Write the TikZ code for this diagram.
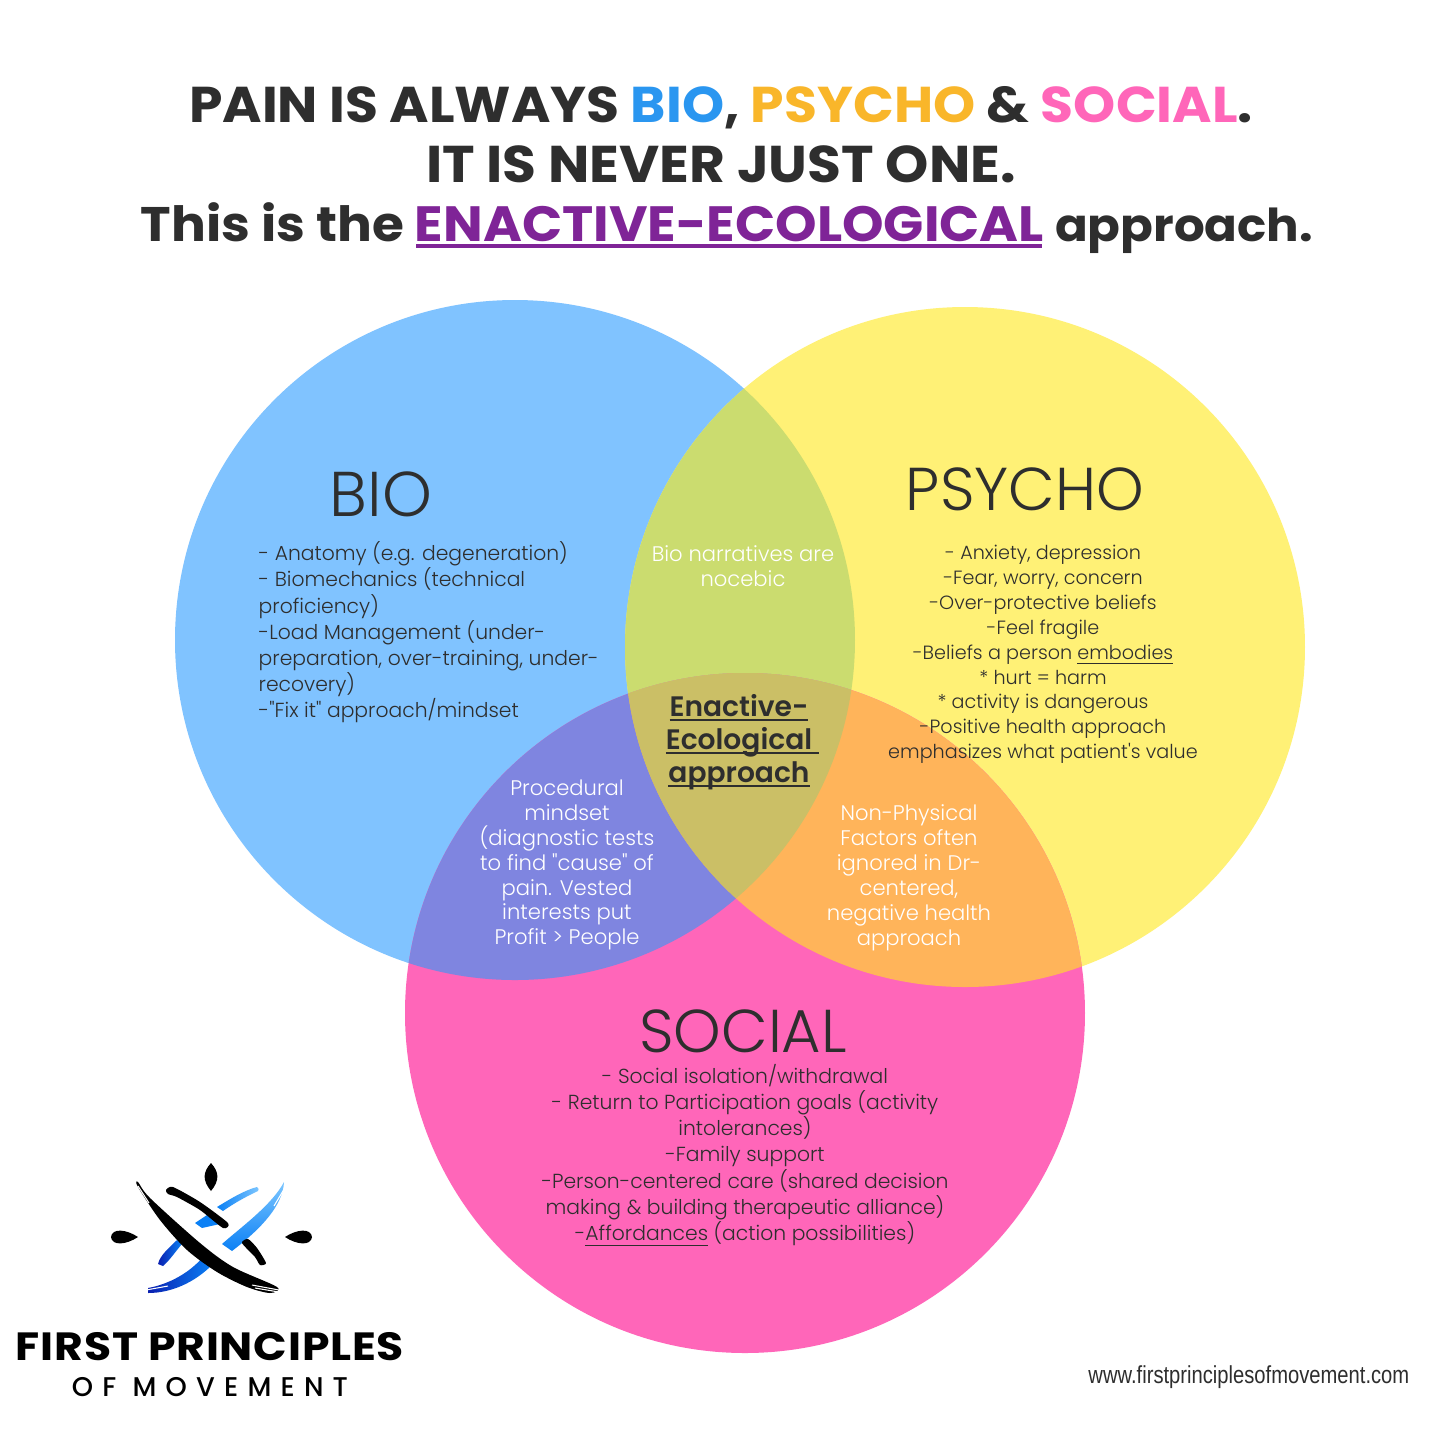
\documentclass[tikz,border=0pt]{standalone}
\usepackage{fontspec}
\setmainfont{Poppins}
\newfontfamily\titlefont[FakeStretch=1.065]{Poppins Bold}
\newfontfamily\semifont{Poppins SemiBold}
\newfontfamily\brandfont[FakeStretch=1.12,LetterSpace=2]{Poppins Bold}
\newfontfamily\brandsubfont[LetterSpace=34]{Poppins Medium}
\newfontfamily\bodyfont{Poppins Light}
\newfontfamily\urlfont[FakeStretch=0.82]{Liberation Sans}
\setlength{\lineskiplimit}{-20pt}
\newlength\ulwidth
\newcommand{\lineunder}[3]{\settowidth{\ulwidth}{#1}\rlap{\rule[-#2]{\ulwidth}{#3}}#1}
\definecolor{inkgray}{HTML}{2E2E2E}
\definecolor{biofill}{HTML}{80C3FF}
\definecolor{psychofill}{HTML}{FFF176}
\definecolor{socialfill}{HTML}{FF66B9}
\definecolor{biopsycho}{HTML}{CBDC6F}
\definecolor{biosocial}{HTML}{7F85E0}
\definecolor{psychosocial}{HTML}{FFB45A}
\definecolor{allthree}{HTML}{CBBF66}
\definecolor{titleblue}{HTML}{2A96F0}
\definecolor{titleyellow}{HTML}{F9B62A}
\definecolor{titlepink}{HTML}{FF66B9}
\definecolor{titlepurple}{HTML}{7F2497}
\definecolor{logoblue}{HTML}{0A80F5}
\definecolor{logodark}{HTML}{0A1FB0}
\definecolor{logolight}{HTML}{7CC6FF}
\tikzset{
  titleline/.style={font=\titlefont\fontsize{#1}{18}\selectfont, text=inkgray, inner sep=0pt, anchor=base},
  heading/.style={font=\bodyfont\fontsize{#1}{18}\selectfont, text=inkgray, inner sep=0pt},
  darktext/.style={font=\bodyfont\fontsize{#1}{7.45}\selectfont, text=inkgray, inner sep=0pt},
  whitetext/.style={font=\bodyfont\fontsize{6}{7.08}\selectfont, text=white, inner sep=0pt, align=center},
  logostroke/.style={fill=black, draw=none},
  logoslit/.style={draw=white, line width=0.3pt},
}
\begin{document}
\begin{tikzpicture}[x=0.01cm,y=-0.01cm]
    \useasboundingbox (0,0) rectangle (1456,1456);
    \fill[white] (0,0) rectangle (1456,1456);
    % Circles
    \fill[biofill] (515,640) circle (340);
    \fill[psychofill] (965,647) circle (340);
    \fill[socialfill] (745,1013) circle (340);
    % Overlaps
    \begin{scope}
        \clip (515,640) circle (340);
        \fill[biopsycho] (965,647) circle (340);
        \fill[biosocial] (745,1013) circle (340);
    \end{scope}
    \begin{scope}
        \clip (965,647) circle (340);
        \fill[psychosocial] (745,1013) circle (340);
    \end{scope}
    \begin{scope}
        \clip (515,640) circle (340);
        \clip (965,647) circle (340);
        \fill[allthree] (745,1013) circle (340);
    \end{scope}
    % Title
    \node[titleline=14.31] (titleone) at (721,122) {PAIN IS ALWAYS \textcolor{titleblue}{BIO}, \textcolor{titleyellow}{PSYCHO} \& \textcolor{titlepink}{SOCIAL}.};
    \node[titleline=14.7] (titletwo) at (721,182) {IT IS NEVER JUST ONE.};
    \node[titleline=13.8] (titlethree) at (727,241) {This is the \textcolor{titlepurple}{\fontsize{14.1}{18}\selectfont ENACTIVE-ECOLOGICAL} {\fontsize{12.9}{18}\selectfont approach.}};
    \fill[titlepurple] (416,244) rectangle (1042,248);
    % Headings
    \node[heading=18] (bio) at (381,494) {BIO};
    \node[heading=17.2] (psycho) at (1025,489) {PSYCHO};
    \node[heading=17.2] (social) at (743,1031) {SOCIAL};
    % Lists
    \node[darktext=5.78, anchor=north west, align=left] (biolist) at (258,541) {- Anatomy (e.g. degeneration)\\- Biomechanics (technical\\proficiency)\\-Load Management (under-\\preparation, over-training, under-\\recovery)\\-"Fix it" approach/mindset};
    \node[darktext=5.45, align=center, font=\bodyfont\fontsize{5.45}{7.07}\selectfont] (psycholist) at (1043,654.5) {- Anxiety, depression\\-Fear, worry, concern\\-Over-protective beliefs\\-Feel fragile\\-Beliefs a person \lineunder{embodies}{1.4pt}{0.25pt}\\* hurt = harm\\* activity is dangerous\\-Positive health approach\\emphasizes what patient's value};
    \node[darktext=5.78, align=center] (sociallist) at (745,1155) {- Social isolation/withdrawal\\- Return to Participation goals (activity\\intolerances)\\-Family support\\-Person-centered care (shared decision\\making \& building therapeutic alliance)\\-\lineunder{Affordances}{1.4pt}{0.25pt} (action possibilities)};
    % Overlap texts
    \node[whitetext] (biopsychotext) at (743,566) {Bio narratives are\\nocebic};
    \node[whitetext] (biosocialtext) at (567,865) {Procedural\\mindset\\(diagnostic tests\\to find "cause" of\\pain. Vested\\interests put\\Profit > People};
    \node[whitetext] (psychosocialtext) at (909,878) {Non-Physical\\Factors often\\ignored in Dr-\\centered,\\negative health\\approach};
    \node[font=\semifont\fontsize{8}{9.4}\selectfont, text=inkgray, align=center, inner sep=0pt] (centertext) at (739,742) {\lineunder{Enactive-}{1.3pt}{0.5pt}\\\lineunder{Ecological\ }{1.3pt}{0.5pt}\\\lineunder{approach}{1.3pt}{0.5pt}};
    % Logo drops
    \fill[black] (211,1163) .. controls (203,1172) and (202,1180) .. (211,1191) .. controls (220,1180) and (219,1172) .. (211,1163) -- cycle;
    \fill[black] (111,1237) .. controls (112,1228) and (126,1229) .. (138,1237) .. controls (126,1245) and (112,1246) .. (111,1237) -- cycle;
    \fill[black] (312,1237) .. controls (311,1228) and (297,1229) .. (285,1237) .. controls (297,1245) and (311,1246) .. (312,1237) -- cycle;
    % Logo blue strokes
    \shade[left color=logodark, middle color=logoblue, right color=logoblue] (158,1264) .. controls (160,1255) and (170,1247) .. (177,1240) -- (182,1244) .. controls (175,1252) and (170,1260) .. (163,1266) -- cycle;
    \fill[logoblue] (195,1223) -- (207,1215) -- (220,1224) -- (202,1228) -- cycle;
    \shade[left color=logoblue, middle color=logoblue, right color=logolight] (217,1207) .. controls (230,1199) and (245,1190) .. (257,1187) .. controls (259,1188) and (259,1190) .. (258,1191) .. controls (245,1197) and (233,1204) .. (223,1211) -- cycle;
    \shade[bottom color=logoblue, middle color=logoblue, top color=logolight] (222,1244) .. controls (240,1228) and (272,1205) .. (284,1182) .. controls (283,1205) and (262,1228) .. (232,1251) -- cycle;
    \shade[left color=logodark, middle color=logoblue, right color=logoblue] (148,1288) .. controls (170,1284) and (190,1272) .. (202,1258) -- (212,1265) .. controls (195,1282) and (172,1293) .. (148,1293) -- cycle;
    % Logo black strokes
    \fill[logostroke] plot[smooth cycle, tension=0.5] coordinates {(138,1182) (150,1198) (200,1243) (233,1267) (277,1287) (270,1293) (247,1287) (217,1272) (187,1250) (160,1220) (138,1187)};
    \fill[logostroke] plot[smooth cycle, tension=0.4] coordinates {(166,1190) (173,1187) (200,1202) (228,1223) (223,1228) (200,1210) (177,1197) (168,1194)};
    \fill[logostroke] plot[smooth cycle, tension=0.4] coordinates {(248,1239) (242,1243) (255,1257) (260,1265) (266,1263) (257,1248)};
    % Brush ends
    \draw[logoslit] (138,1186) -- (149,1203);
    \draw[logoslit] (136,1190) -- (146,1206);
    \draw[logoslit] (279,1290) -- (252,1285);
    \draw[logoslit] (279,1292) -- (255,1288);
    \draw[logoslit] (286,1186) -- (274,1206);
    \draw[logoslit] (146,1290) -- (168,1286);
    % Logo text
    \node[font=\brandfont\fontsize{11.2}{12}\selectfont, text=black, inner sep=0pt] (brand) at (210,1347) {FIRST PRINCIPLES};
    \node[font=\brandsubfont\fontsize{7.7}{9}\selectfont, text=black, inner sep=0pt] (brandsub) at (210,1387) {OF MOVEMENT};
    \node[font=\urlfont\fontsize{7}{8}\selectfont, text=inkgray, inner sep=0pt, anchor=east] (website) at (1410,1377) {www.firstprinciplesofmovement.com};
\end{tikzpicture}
\end{document}
